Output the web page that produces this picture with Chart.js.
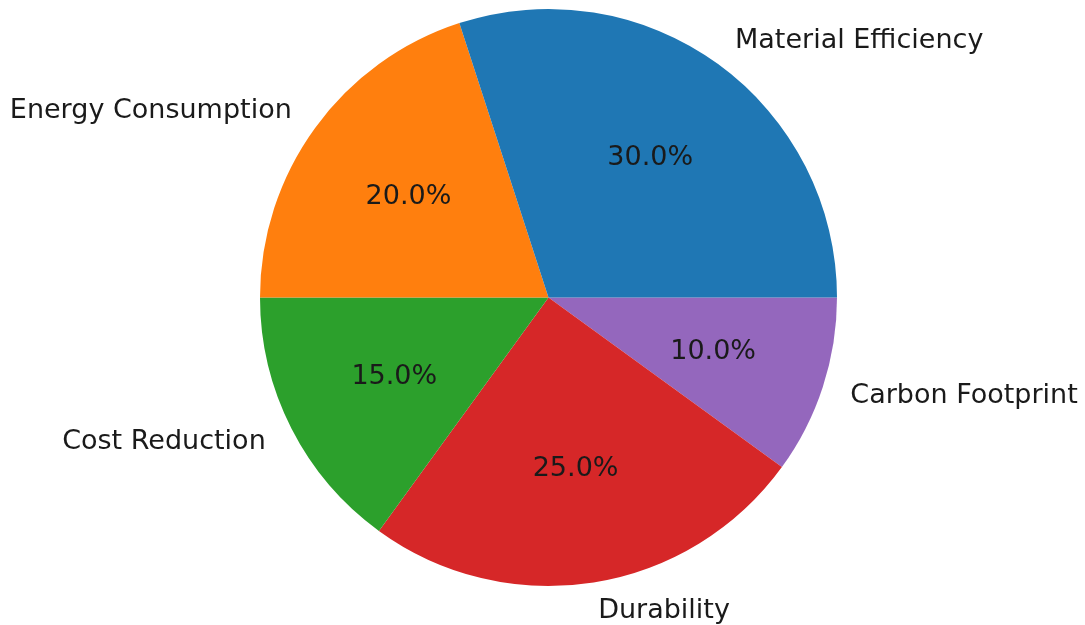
<!DOCTYPE html>
<html>
<head>
<meta charset="utf-8">
<script src="https://cdn.jsdelivr.net/npm/chart.js@4"></script>
<style>
  html, body { margin: 0; padding: 0; background: #fff; }
  #wrap { width: 1085px; height: 625px; }
</style>
</head>
<body>
<div id="wrap"><canvas id="pieChart" width="1085" height="625"></canvas></div>
<script>
// data, in matplotlib order (counter-clockwise from 3 o'clock)
const categories = ['Material Efficiency', 'Energy Consumption', 'Cost Reduction', 'Durability', 'Carbon Footprint'];
const shares = [30, 20, 15, 25, 10];
const sliceColors = ['#1f77b4', '#ff7f0e', '#2ca02c', '#d62728', '#9467bd'];

// Chart.js draws clockwise, so reverse to get the same layout
const labelsCw = categories.slice().reverse();
const valuesCw = shares.slice().reverse();
const colorsCw = sliceColors.slice().reverse();

const FONT = '27px "DejaVu Sans"';

const pieText = {
    id: 'pieText',
    afterDatasetsDraw(chart) {
        const ctx = chart.ctx;
        const meta = chart.getDatasetMeta(0);
        const data = chart.data.datasets[0].data;
        const total = data.reduce((a, b) => a + b, 0);
        ctx.save();
        ctx.font = FONT;
        ctx.fillStyle = '#1a1a1a';
        ctx.textBaseline = 'middle';
        meta.data.forEach((arc, i) => {
            const p = arc.getProps(['x', 'y', 'startAngle', 'endAngle', 'outerRadius'], true);
            const mid = (p.startAngle + p.endAngle) / 2;
            // category label at 1.1 r
            const lx = p.x + Math.cos(mid) * p.outerRadius * 1.1;
            const ly = p.y + Math.sin(mid) * p.outerRadius * 1.1;
            ctx.textAlign = lx >= p.x ? 'left' : 'right';
            ctx.fillText(chart.data.labels[i], lx, ly);
            // percentage at 0.6 r
            const px = p.x + Math.cos(mid) * p.outerRadius * 0.6;
            const py = p.y + Math.sin(mid) * p.outerRadius * 0.6;
            ctx.textAlign = 'center';
            ctx.fillText((data[i] / total * 100).toFixed(1) + '%', px, py + 1);
        });
        ctx.restore();
    }
};

new Chart(document.getElementById('pieChart').getContext('2d'), {
    type: 'pie',
    data: {
        labels: labelsCw,
        datasets: [{
            data: valuesCw,
            backgroundColor: colorsCw,
            borderWidth: 0
        }]
    },
    options: {
        responsive: false,
        animation: false,
        rotation: 90,
        layout: { padding: { left: 260, right: 248, top: 9, bottom: 39 } },
        plugins: {
            legend: { display: false },
            tooltip: { enabled: false }
        }
    },
    plugins: [pieText]
});
</script>
</body>
</html>
